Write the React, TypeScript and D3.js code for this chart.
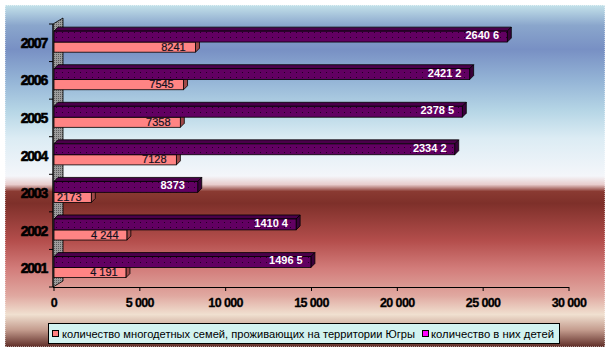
import React from 'react';
import * as d3 from 'd3';

const years = ['2007', '2006', '2005', '2004', '2003', '2002', '2001'];
const families = [8241, 7545, 7358, 7128, 2173, 4244, 4191];
const children = [26406, 24212, 23785, 23342, 8373, 14104, 14965];
const familyLabels = ['8241', '7545', '7358', '7128', '2173', '4 244', '4 191'];
const childLabels = ['2640 6', '2421 2', '2378 5', '2334 2', '8373', '1410 4', '1496 5'];
const xTicks = [0, 5000, 10000, 15000, 20000, 25000, 30000];
const seriesNames = [
	'количество многодетных семей, проживающих на территории Югры',
	'количество в них детей',
];

const W = 611;
const H = 354;
const FONT = '"Liberation Sans", Arial, sans-serif';
const D = 4;

const x = d3.scaleLinear().domain([0, 30000]).range([54, 569]);
const y = d3.scaleBand().domain(years).range([24, 287]);
const fmt = (v: number) => d3.format(',')(v).replace(/,/g, ' ');

const bgStops: [number, string][] = [
	[0, '#c4e2ea'], [0.06, '#8aa6cc'], [0.13, '#7890c4'], [0.22, '#94b4d6'],
	[0.31, '#b6d6e6'], [0.39, '#dcecf4'], [0.5, '#f4f6fa'], [0.525, '#e8cccc'],
	[0.545, '#8a3a32'], [0.58, '#7e302a'], [0.69, '#b44e4c'], [0.77, '#d27c7a'],
	[0.85, '#e0a8a0'], [0.905, '#f0e0d0'], [0.95, '#c49c8e'], [1, '#5e2c26'],
];

function Bar3D({ x0, x1, top, h, front, topFill, side }: any) {
	return (
		<g stroke="#000" strokeWidth={0.8}>
			<polygon points={`${x0},${top} ${x0 + D},${top - D} ${x1 + D},${top - D} ${x1},${top}`} fill={topFill}/>
			<polygon points={`${x1},${top} ${x1 + D},${top - D} ${x1 + D},${top + h - D} ${x1},${top + h}`} fill={side}/>
			<rect x={x0} y={top} width={x1 - x0} height={h} fill={front}/>
		</g>
	);
}

export default function App() {
	const bw = y.bandwidth();
	return (
		<svg width={W} height={H} style={{ position: 'absolute', left: 0, top: 0 }} fontFamily={FONT}>
			<defs>
				<linearGradient id="bg" x1="0" y1="0" x2="0" y2="1">
					{bgStops.map(([o, c]) => <stop key={o} offset={o} stopColor={c}/>)}
				</linearGradient>
				<pattern id="purp" width="6" height="5" patternUnits="userSpaceOnUse">
					<rect width="6" height="5" fill="#620062"/>
					<rect x="2" y="2" width="1" height="1" fill="#220022"/>
				</pattern>
				<pattern id="wall" width="2" height="2" patternUnits="userSpaceOnUse">
					<rect width="2" height="2" fill="#9c9c9c"/>
					<rect width="1" height="1" fill="#5c5c5c"/>
				</pattern>
			</defs>
			<rect width={W} height={H} fill="#fff"/>
			<rect x={5} y={5} width={600} height={342} fill="url(#bg)" stroke="#fff" strokeDasharray="1 1"/>

			{/* side wall */}
			<polygon points="53,24 63,18 63,281 53,287" fill="url(#wall)" stroke="#000" strokeWidth={0.8}/>
			<line x1={53} x2={53} y1={24} y2={287} stroke="#000"/>
			{[...years.map((yr) => y(yr) as number), 287].map((v, i) => (
				<line key={i} x1={49} x2={53} y1={v} y2={v} stroke="#000"/>
			))}

			{/* x axis */}
			<line x1={53} x2={x(30000)} y1={287.5} y2={287.5} stroke="#000"/>
			{xTicks.map((t) => (
				<g key={t}>
					<line x1={x(t)} x2={x(t)} y1={287} y2={291} stroke="#000"/>
					<text x={x(t)} y={307} textAnchor="middle" fontSize={12.5} fontWeight="bold" letterSpacing={-0.6} stroke="#000" strokeWidth={0.3}>{fmt(t)}</text>
				</g>
			))}

			{years.map((yr, i) => {
				const bs = y(yr) as number;
				const pTop = bs + bw * 0.19;
				const pH = bw * 0.29;
				const fTop = bs + bw * 0.48;
				const fH = bw * 0.27;
				return (
					<g key={yr}>
						<text x={47} y={bs + bw / 2 + 5} textAnchor="end" fontSize={14} fontWeight="bold" letterSpacing={-1.2} stroke="#000" strokeWidth={0.6}>{yr}</text>
						<Bar3D x0={x(0)} x1={x(families[i])} top={fTop} h={fH} front="#ff8484" topFill="#d86464" side="#a04848"/>
						<Bar3D x0={x(0)} x1={x(children[i])} top={pTop} h={pH} front="url(#purp)" topFill="#4a004a" side="#3a003a"/>
						<text x={x(families[i]) - 22} y={fTop + fH - 1.5} textAnchor="middle" fontSize={11} fill="#101020" stroke="#101020" strokeWidth={0.2}>{familyLabels[i]}</text>
						<text x={x(children[i]) - 25} y={pTop + pH - 3} textAnchor="middle" fontSize={11} fontWeight="bold" fill="#fff">{childLabels[i]}</text>
					</g>
				);
			})}

			{/* legend */}
			<rect x={48.5} y={323.5} width={511} height={20} fill="#d2f2f0" stroke="#000"/>
			<rect x={52.5} y={330.5} width={6} height={6} fill="#ff8080" stroke="#000"/>
			<text x={62} y={338} fontSize={11} textLength={353} lengthAdjust="spacingAndGlyphs">{seriesNames[0]}</text>
			<rect x={422.5} y={330.5} width={6} height={6} fill="#ff00ff" stroke="#000"/>
			<text x={431} y={338} fontSize={11} textLength={123} lengthAdjust="spacingAndGlyphs">{seriesNames[1]}</text>
		</svg>
	);
}
